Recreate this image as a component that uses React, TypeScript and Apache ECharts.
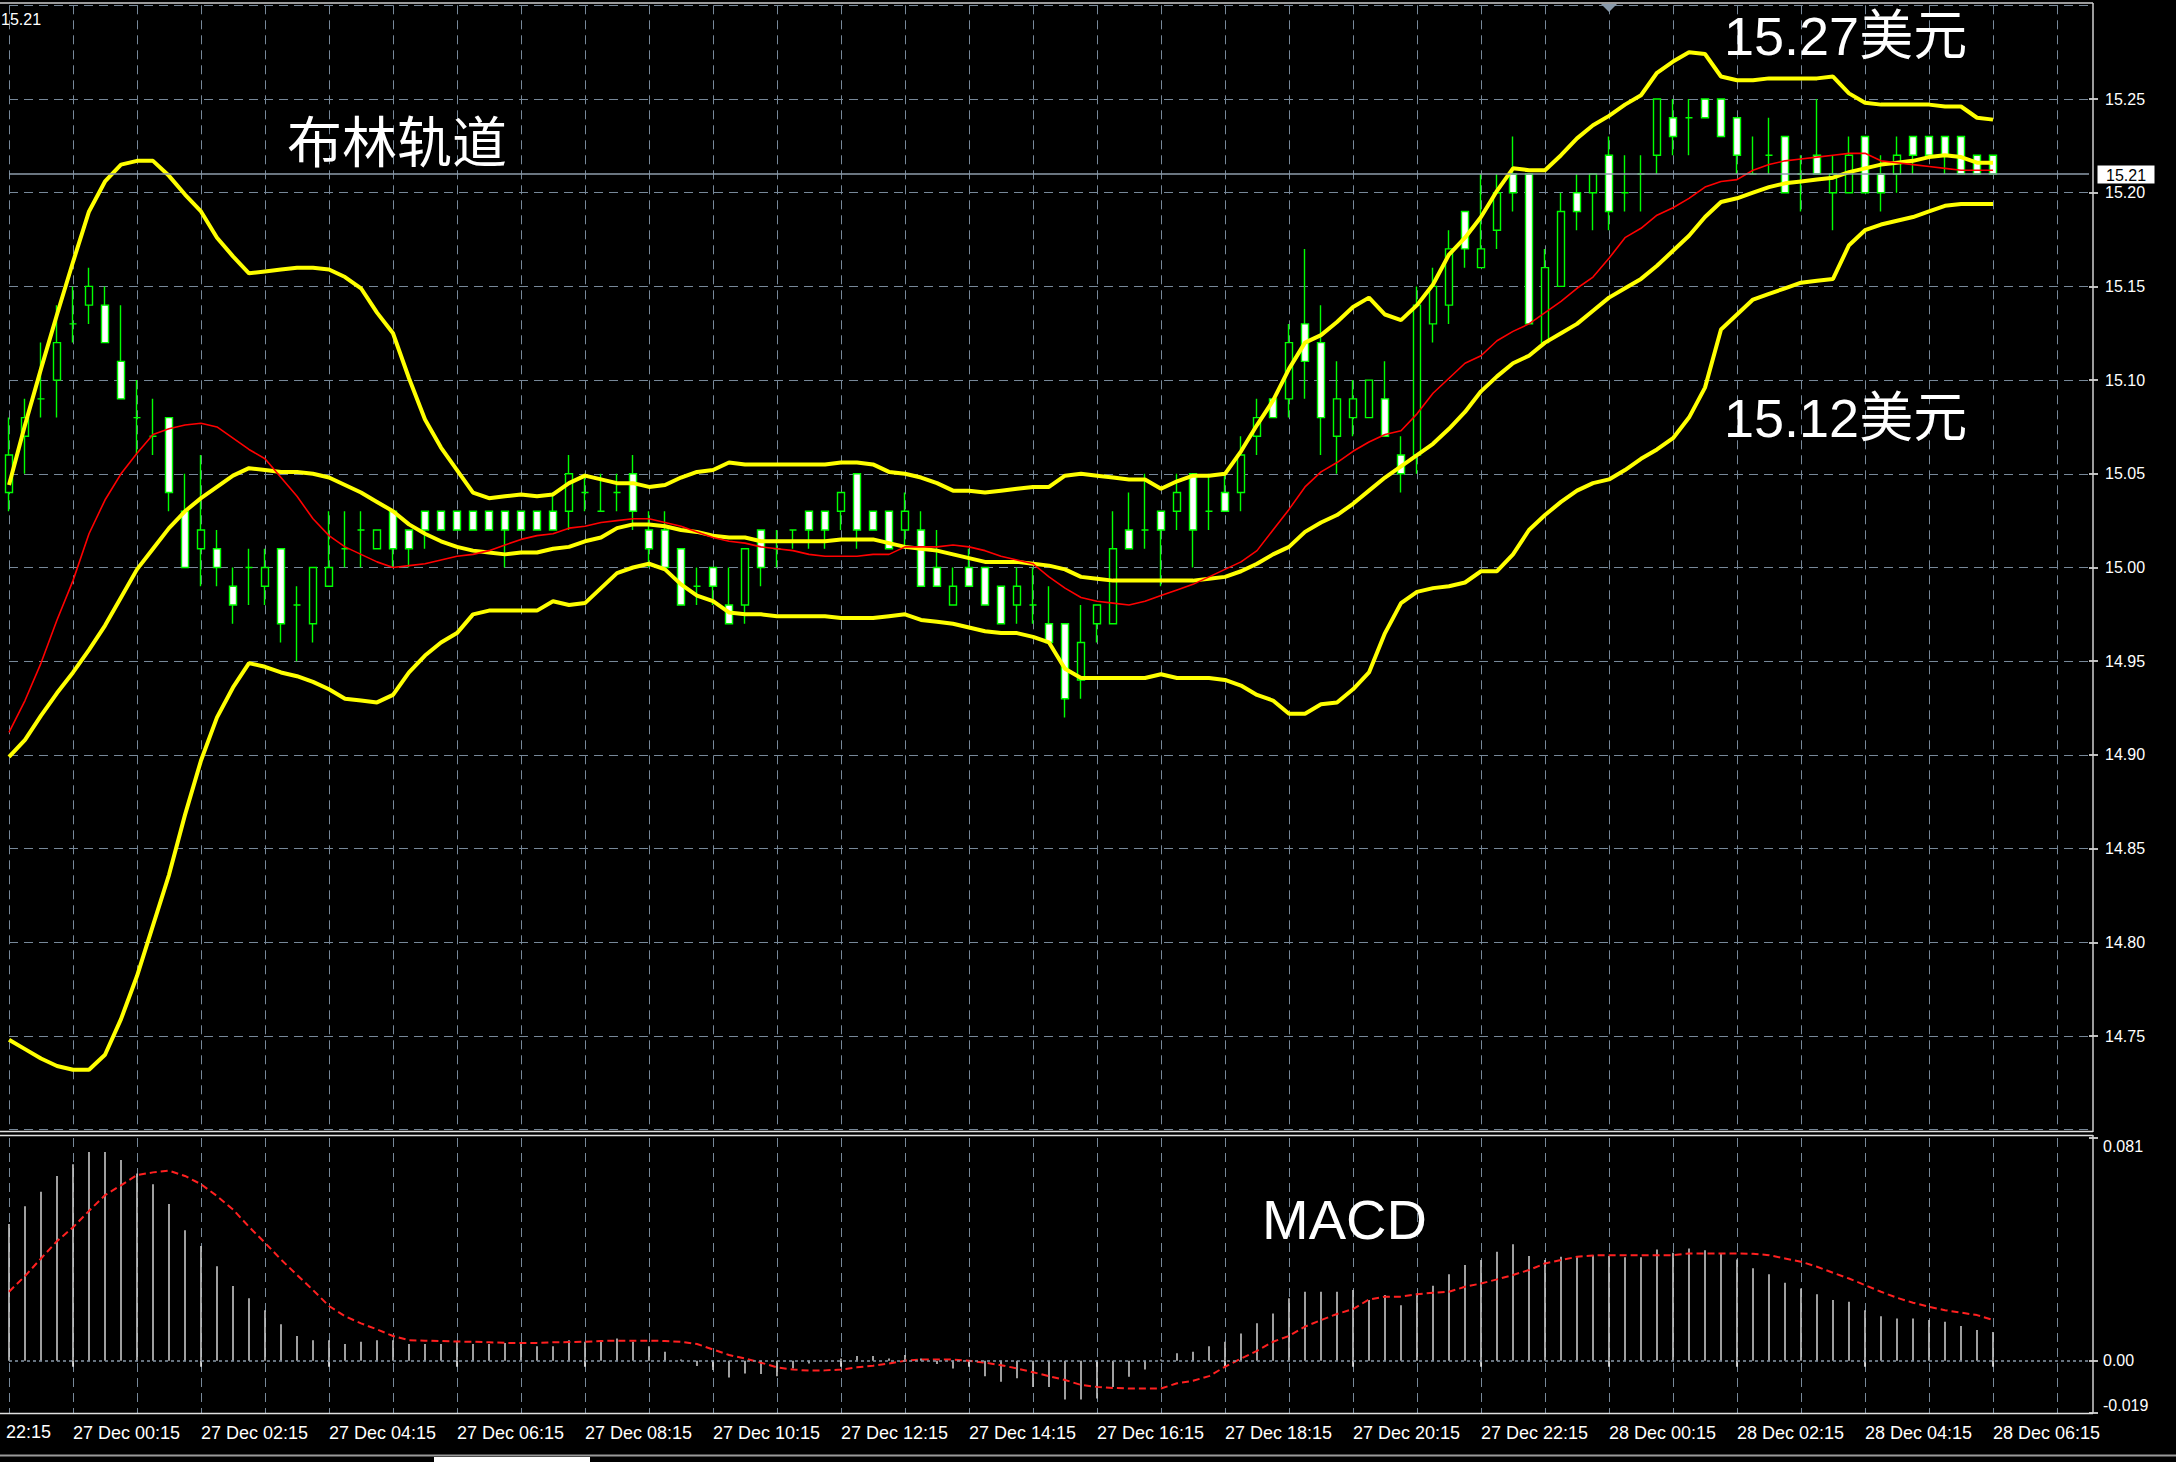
import React, { useEffect, useRef } from 'react';
import * as echarts from 'echarts';

const W = 2176;
const H = 1462;

// 15-minute bars, 26 Dec 23:15 -> 28 Dec 06:15 ; each: [open, close, low, high]
const candles: number[][] = [
  [15.04, 15.06, 15.03, 15.08], [15.07, 15.08, 15.05, 15.09], [15.09, 15.09, 15.08, 15.12], [15.10, 15.12, 15.08, 15.14],
  [15.13, 15.13, 15.12, 15.15], [15.14, 15.15, 15.13, 15.16], [15.14, 15.12, 15.12, 15.15], [15.11, 15.09, 15.09, 15.14],
  [15.08, 15.08, 15.06, 15.10], [15.07, 15.07, 15.06, 15.09], [15.08, 15.04, 15.03, 15.08], [15.03, 15.00, 15.00, 15.05],
  [15.01, 15.02, 14.99, 15.06], [15.01, 15.00, 14.99, 15.02], [14.99, 14.98, 14.97, 15.00], [15.00, 15.00, 14.98, 15.01],
  [14.99, 15.00, 14.98, 15.01], [15.01, 14.97, 14.96, 15.01], [14.98, 14.98, 14.95, 14.99], [14.97, 15.00, 14.96, 15.00],
  [14.99, 15.00, 14.99, 15.03], [15.01, 15.01, 15.00, 15.03], [15.02, 15.02, 15.00, 15.03], [15.01, 15.02, 15.01, 15.02],
  [15.03, 15.01, 15.00, 15.03], [15.02, 15.01, 15.00, 15.02], [15.03, 15.02, 15.01, 15.03], [15.03, 15.02, 15.02, 15.03],
  [15.03, 15.02, 15.02, 15.03], [15.03, 15.02, 15.02, 15.03], [15.03, 15.02, 15.02, 15.03], [15.03, 15.02, 15.00, 15.03],
  [15.03, 15.02, 15.02, 15.03], [15.03, 15.02, 15.02, 15.03], [15.03, 15.02, 15.02, 15.04], [15.03, 15.05, 15.02, 15.06],
  [15.04, 15.04, 15.03, 15.05], [15.03, 15.03, 15.03, 15.05], [15.04, 15.04, 15.03, 15.05], [15.05, 15.03, 15.02, 15.06],
  [15.02, 15.01, 15.00, 15.03], [15.02, 15.00, 15.00, 15.03], [15.01, 14.98, 14.98, 15.01], [14.99, 14.99, 14.98, 15.00],
  [15.00, 14.99, 14.98, 15.00], [14.98, 14.97, 14.97, 15.00], [14.98, 15.01, 14.97, 15.01], [15.02, 15.00, 14.99, 15.02],
  [15.01, 15.01, 15.00, 15.02], [15.02, 15.02, 15.01, 15.02], [15.03, 15.02, 15.01, 15.03], [15.03, 15.02, 15.01, 15.03],
  [15.03, 15.04, 15.02, 15.04], [15.05, 15.02, 15.01, 15.05], [15.03, 15.02, 15.02, 15.03], [15.03, 15.01, 15.01, 15.03],
  [15.02, 15.03, 15.01, 15.04], [15.02, 14.99, 14.99, 15.03], [15.00, 14.99, 14.99, 15.02], [14.98, 14.99, 14.98, 15.00],
  [15.00, 14.99, 14.99, 15.01], [15.00, 14.98, 14.98, 15.00], [14.99, 14.97, 14.97, 14.99], [14.98, 14.99, 14.97, 15.00],
  [14.98, 14.98, 14.97, 15.00], [14.97, 14.96, 14.96, 14.99], [14.97, 14.93, 14.92, 14.97], [14.94, 14.96, 14.93, 14.98],
  [14.97, 14.98, 14.96, 14.98], [14.97, 15.01, 14.97, 15.03], [15.02, 15.01, 15.01, 15.04], [15.02, 15.02, 15.01, 15.05],
  [15.03, 15.02, 14.99, 15.03], [15.03, 15.04, 15.02, 15.05], [15.05, 15.02, 15.00, 15.05], [15.03, 15.03, 15.02, 15.05],
  [15.04, 15.03, 15.03, 15.05], [15.04, 15.06, 15.03, 15.07], [15.07, 15.08, 15.06, 15.09], [15.09, 15.08, 15.08, 15.09],
  [15.09, 15.12, 15.08, 15.13], [15.13, 15.11, 15.09, 15.17], [15.12, 15.08, 15.06, 15.14], [15.07, 15.09, 15.05, 15.11],
  [15.08, 15.09, 15.07, 15.10], [15.08, 15.10, 15.08, 15.10], [15.09, 15.07, 15.07, 15.11], [15.06, 15.05, 15.04, 15.07],
  [15.06, 15.14, 15.05, 15.15], [15.13, 15.15, 15.12, 15.16], [15.14, 15.17, 15.13, 15.18], [15.19, 15.17, 15.16, 15.19],
  [15.16, 15.17, 15.16, 15.21], [15.18, 15.20, 15.17, 15.21], [15.21, 15.20, 15.19, 15.23], [15.21, 15.13, 15.13, 15.21],
  [15.12, 15.16, 15.12, 15.17], [15.15, 15.19, 15.15, 15.20], [15.20, 15.19, 15.18, 15.21], [15.20, 15.21, 15.18, 15.21],
  [15.22, 15.19, 15.18, 15.23], [15.20, 15.20, 15.19, 15.22], [15.21, 15.21, 15.19, 15.22], [15.22, 15.25, 15.21, 15.25],
  [15.24, 15.23, 15.22, 15.25], [15.24, 15.24, 15.22, 15.25], [15.25, 15.24, 15.24, 15.25], [15.25, 15.23, 15.23, 15.25],
  [15.24, 15.22, 15.21, 15.24], [15.21, 15.21, 15.21, 15.23], [15.22, 15.22, 15.21, 15.24], [15.23, 15.20, 15.20, 15.23],
  [15.21, 15.21, 15.19, 15.22], [15.22, 15.21, 15.21, 15.25], [15.20, 15.21, 15.18, 15.22], [15.20, 15.22, 15.20, 15.23],
  [15.23, 15.20, 15.20, 15.23], [15.21, 15.20, 15.19, 15.22], [15.21, 15.22, 15.20, 15.23], [15.23, 15.22, 15.21, 15.23],
  [15.23, 15.22, 15.22, 15.23], [15.23, 15.22, 15.21, 15.23], [15.23, 15.21, 15.21, 15.23], [15.22, 15.21, 15.21, 15.22],
  [15.22, 15.21, 15.21, 15.22],
];

const bbUpper = [
  15.044, 15.076, 15.106, 15.135, 15.163, 15.190, 15.206, 15.215, 15.217, 15.217,
  15.209, 15.199, 15.190, 15.176, 15.166, 15.157, 15.158, 15.159, 15.160, 15.160,
  15.159, 15.155, 15.149, 15.136, 15.125, 15.101, 15.079, 15.064, 15.052, 15.040,
  15.037, 15.038, 15.039, 15.038, 15.039, 15.045, 15.049, 15.047, 15.045, 15.045,
  15.043, 15.044, 15.048, 15.051, 15.052, 15.056, 15.055, 15.055, 15.055, 15.055,
  15.055, 15.055, 15.056, 15.056, 15.055, 15.051, 15.050, 15.048, 15.045, 15.041,
  15.041, 15.040, 15.041, 15.042, 15.043, 15.043, 15.049, 15.050, 15.049, 15.048,
  15.047, 15.047, 15.042, 15.046, 15.049, 15.049, 15.050, 15.062, 15.076, 15.089,
  15.106, 15.120, 15.124, 15.131, 15.139, 15.144, 15.135, 15.132, 15.140, 15.151,
  15.167, 15.176, 15.187, 15.201, 15.213, 15.212, 15.212, 15.220, 15.229, 15.236,
  15.241, 15.247, 15.252, 15.264, 15.270, 15.275, 15.274, 15.262, 15.260, 15.260,
  15.261, 15.261, 15.261, 15.261, 15.262, 15.253, 15.248, 15.247, 15.247, 15.247,
  15.247, 15.246, 15.246, 15.240, 15.239,
];

const bbMiddle = [
  14.899, 14.908, 14.921, 14.933, 14.944, 14.956, 14.969, 14.984, 14.999, 15.010,
  15.021, 15.030, 15.037, 15.043, 15.049, 15.053, 15.052, 15.051, 15.051, 15.050,
  15.048, 15.044, 15.040, 15.035, 15.030, 15.023, 15.018, 15.014, 15.011, 15.009,
  15.008, 15.007, 15.008, 15.008, 15.010, 15.011, 15.014, 15.016, 15.021, 15.023,
  15.023, 15.022, 15.020, 15.019, 15.017, 15.016, 15.016, 15.014, 15.014, 15.014,
  15.014, 15.014, 15.015, 15.015, 15.015, 15.013, 15.011, 15.010, 15.009, 15.007,
  15.005, 15.003, 15.003, 15.003, 15.002, 15.001, 14.999, 14.995, 14.994, 14.993,
  14.993, 14.993, 14.993, 14.993, 14.993, 14.994, 14.995, 14.998, 15.002, 15.007,
  15.011, 15.019, 15.024, 15.028, 15.034, 15.041, 15.048, 15.054, 15.060, 15.066,
  15.074, 15.083, 15.094, 15.102, 15.109, 15.113, 15.120, 15.125, 15.130, 15.137,
  15.144, 15.149, 15.154, 15.161, 15.169, 15.177, 15.187, 15.195, 15.197, 15.200,
  15.203, 15.205, 15.206, 15.207, 15.208, 15.211, 15.213, 15.215, 15.216, 15.217,
  15.219, 15.220, 15.219, 15.216, 15.216,
];

const bbLower = [
  14.748, 14.743, 14.738, 14.734, 14.732, 14.732, 14.740, 14.759, 14.782, 14.809,
  14.836, 14.868, 14.897, 14.920, 14.936, 14.949, 14.947, 14.944, 14.942, 14.939,
  14.935, 14.930, 14.929, 14.928, 14.932, 14.944, 14.953, 14.960, 14.965, 14.975,
  14.977, 14.977, 14.977, 14.977, 14.982, 14.980, 14.981, 14.989, 14.997, 15.000,
  15.002, 14.999, 14.991, 14.985, 14.982, 14.976, 14.975, 14.975, 14.974, 14.974,
  14.974, 14.974, 14.973, 14.973, 14.973, 14.974, 14.975, 14.972, 14.971, 14.970,
  14.968, 14.966, 14.965, 14.965, 14.963, 14.960, 14.946, 14.941, 14.941, 14.941,
  14.941, 14.941, 14.943, 14.941, 14.941, 14.941, 14.940, 14.937, 14.932, 14.929,
  14.922, 14.922, 14.927, 14.928, 14.935, 14.944, 14.965, 14.981, 14.987, 14.989,
  14.990, 14.992, 14.998, 14.998, 15.007, 15.020, 15.028, 15.035, 15.041, 15.045,
  15.047, 15.052, 15.058, 15.063, 15.069, 15.080, 15.096, 15.127, 15.135, 15.143,
  15.146, 15.149, 15.152, 15.153, 15.154, 15.172, 15.180, 15.183, 15.185, 15.187,
  15.190, 15.193, 15.194, 15.194, 15.194,
];

const maRed = [
  14.912, 14.929, 14.949, 14.972, 14.993, 15.018, 15.036, 15.050, 15.061, 15.071,
  15.074, 15.076, 15.077, 15.075, 15.069, 15.063, 15.058, 15.048, 15.038, 15.026,
  15.017, 15.011, 15.007, 15.003, 15.000, 15.001, 15.002, 15.004, 15.006, 15.007,
  15.009, 15.012, 15.015, 15.017, 15.018, 15.021, 15.022, 15.024, 15.025, 15.026,
  15.026, 15.024, 15.022, 15.019, 15.016, 15.014, 15.013, 15.011, 15.010, 15.009,
  15.007, 15.006, 15.006, 15.006, 15.007, 15.007, 15.011, 15.011, 15.011, 15.012,
  15.011, 15.009, 15.006, 15.004, 15.002, 14.995, 14.989, 14.984, 14.982, 14.981,
  14.980, 14.982, 14.985, 14.988, 14.991, 14.995, 14.999, 15.003, 15.009, 15.020,
  15.031, 15.043, 15.051, 15.056, 15.062, 15.067, 15.071, 15.073, 15.082, 15.093,
  15.101, 15.109, 15.113, 15.121, 15.126, 15.130, 15.136, 15.142, 15.149, 15.155,
  15.165, 15.176, 15.181, 15.188, 15.192, 15.197, 15.203, 15.206, 15.207, 15.212,
  15.215, 15.217, 15.218, 15.219, 15.220, 15.221, 15.221, 15.217, 15.216, 15.215,
  15.214, 15.213, 15.212, 15.212, 15.212,
];

const macdHist = [
  0.0497, 0.0562, 0.0615, 0.0672, 0.0715, 0.0759, 0.0759, 0.0730, 0.0681, 0.0642,
  0.0570, 0.0475, 0.0417, 0.0344, 0.0272, 0.0227, 0.0184, 0.0133, 0.0090, 0.0075,
  0.0075, 0.0061, 0.0069, 0.0075, 0.0075, 0.0061, 0.0061, 0.0061, 0.0069, 0.0061,
  0.0061, 0.0065, 0.0063, 0.0053, 0.0053, 0.0075, 0.0069, 0.0075, 0.0081, 0.0069,
  0.0053, 0.0033, 0.0005, -0.0019, -0.0034, -0.0061, -0.0046, -0.0048, -0.0056, -0.0028,
  -0.0010, -0.0002, 0.0008, 0.0017, 0.0017, 0.0008, 0.0021, 0.0008, -0.0012, -0.0028,
  -0.0016, -0.0056, -0.0076, -0.0064, -0.0095, -0.0095, -0.0141, -0.0141, -0.0137, -0.0095,
  -0.0058, -0.0032, 0.0005, 0.0027, 0.0033, 0.0053, 0.0069, 0.0099, 0.0136, 0.0172,
  0.0227, 0.0251, 0.0251, 0.0251, 0.0257, 0.0221, 0.0239, 0.0202, 0.0245, 0.0273,
  0.0315, 0.0348, 0.0366, 0.0396, 0.0424, 0.0381, 0.0366, 0.0378, 0.0381, 0.0384,
  0.0381, 0.0376, 0.0376, 0.0405, 0.0393, 0.0408, 0.0402, 0.0390, 0.0368, 0.0336,
  0.0315, 0.0284, 0.0263, 0.0242, 0.0221, 0.0215, 0.0184, 0.0162, 0.0154, 0.0154,
  0.0148, 0.0142, 0.0126, 0.0112, 0.0105,
];

const macdSignal = [
  0.0251, 0.0308, 0.0372, 0.0435, 0.0485, 0.0545, 0.0602, 0.0638, 0.0675, 0.0685,
  0.0691, 0.0672, 0.0642, 0.0599, 0.0550, 0.0487, 0.0429, 0.0368, 0.0312, 0.0257,
  0.0199, 0.0162, 0.0136, 0.0114, 0.0090, 0.0075, 0.0073, 0.0072, 0.0070, 0.0069,
  0.0067, 0.0065, 0.0065, 0.0065, 0.0067, 0.0068, 0.0069, 0.0072, 0.0073, 0.0073,
  0.0073, 0.0072, 0.0069, 0.0061, 0.0041, 0.0021, 0.0008, -0.0007, -0.0024, -0.0032,
  -0.0036, -0.0035, -0.0032, -0.0024, -0.0018, -0.0010, 0.0000, 0.0005, 0.0005, 0.0004,
  0.0000, -0.0007, -0.0016, -0.0028, -0.0042, -0.0056, -0.0070, -0.0088, -0.0095, -0.0099,
  -0.0101, -0.0101, -0.0101, -0.0082, -0.0073, -0.0056, -0.0022, 0.0008, 0.0036, 0.0069,
  0.0090, 0.0124, 0.0148, 0.0170, 0.0188, 0.0223, 0.0233, 0.0233, 0.0242, 0.0247,
  0.0251, 0.0269, 0.0281, 0.0296, 0.0312, 0.0330, 0.0354, 0.0366, 0.0378, 0.0383,
  0.0384, 0.0384, 0.0384, 0.0384, 0.0384, 0.0390, 0.0390, 0.0390, 0.0390, 0.0389,
  0.0384, 0.0372, 0.0360, 0.0342, 0.0320, 0.0299, 0.0275, 0.0251, 0.0229, 0.0211,
  0.0196, 0.0184, 0.0175, 0.0166, 0.0148,
];

// time labels every 2 hours, first at bar index 4 (27 Dec 00:15)
const timeTicks = [
  '27 Dec 00:15', '27 Dec 02:15', '27 Dec 04:15', '27 Dec 06:15', '27 Dec 08:15', '27 Dec 10:15',
  '27 Dec 12:15', '27 Dec 14:15', '27 Dec 16:15', '27 Dec 18:15', '27 Dec 20:15', '27 Dec 22:15',
  '28 Dec 00:15', '28 Dec 02:15', '28 Dec 04:15', '28 Dec 06:15',
];
const leftEdgeTick = '22:15';
const macdTicks = [-0.019, 0, 0.081];
const bidPrice = 15.21;

const SLOTS = 131; // 125 bars + right shift space
const categories = Array.from({ length: SLOTS }, (_, i) => String(i));

const GRID = '#778899';
const FONT = 'Liberation Sans, Arial, sans-serif';
const CJK = 'Liberation Sans, "Noto Sans CJK SC", sans-serif';

const isTimeTick = (i: number) => i >= 4 && i <= 124 && (i - 4) % 8 === 0;
const isHour = (i: number) => i % 4 === 0;

function buildOption() {
  const vSplit = { show: true, interval: (i: number) => isHour(i), lineStyle: { color: GRID, type: [9, 6], width: 1 } };
  const line = (x1: number, y1: number, x2: number, y2: number, stroke: string, lw = 1.5) => ({
    type: 'line', silent: true, z: 100, shape: { x1, y1, x2, y2 }, style: { stroke, lineWidth: lw },
  });
  const txt = (text: string, x: number, y: number, size: number, fam: string, fill = '#fff', align = 'left') => ({
    type: 'text', silent: true, z: 101, x, y,
    style: { text, fill, fontSize: size, fontFamily: fam, align, verticalAlign: 'middle' },
  });
  return {
    animation: false,
    backgroundColor: '#000',
    grid: [
      { left: 9, top: 5.3, width: 2080, height: 1124.4, outerBoundsMode: 'none' },
      { left: 9, top: 1138, width: 2080, height: 275, outerBoundsMode: 'none' },
    ],
    xAxis: [
      {
        type: 'category', gridIndex: 0, data: categories, boundaryGap: false,
        axisLine: { show: false }, axisTick: { show: false }, axisLabel: { show: false }, splitLine: vSplit,
      },
      {
        type: 'category', gridIndex: 1, data: categories, boundaryGap: false,
        axisLine: { show: false },
        axisTick: { show: true, interval: (i: number) => isTimeTick(i), length: 6, lineStyle: { color: '#ffffff', width: 1.5 } },
        axisLabel: {
          show: true, interval: (i: number) => isTimeTick(i), align: 'left', margin: 11,
          color: '#ffffff', fontSize: 18, fontFamily: FONT,
          formatter: (_v: string, idx: number) => (isTimeTick(idx) ? timeTicks[(idx - 4) / 8] : ''),
        },
        splitLine: vSplit,
      },
    ],
    yAxis: [
      {
        type: 'value', gridIndex: 0, position: 'right', min: 14.7, max: 15.3, interval: 0.05, scale: true,
        axisLine: { show: false },
        axisTick: { show: true, length: 9, lineStyle: { color: '#ffffff', width: 1.5 } },
        axisLabel: {
          color: '#ffffff', fontSize: 16, fontFamily: FONT, margin: 16, showMinLabel: false, showMaxLabel: false,
          formatter: (v: number) => v.toFixed(2),
        },
        splitLine: { show: true, lineStyle: { color: GRID, type: [9, 6], width: 1 } },
      },
      {
        type: 'value', gridIndex: 1, position: 'right', min: -0.019, max: 0.081,
        axisLine: { show: false },
        axisTick: { show: true, length: 9, customValues: macdTicks, lineStyle: { color: '#ffffff', width: 1.5 } },
        axisLabel: {
          color: '#ffffff', fontSize: 16, fontFamily: FONT, margin: 14, customValues: macdTicks,
          verticalAlignMinLabel: 'bottom', verticalAlignMaxLabel: 'top',
          formatter: (v: number) => (v === 0 ? '0.00' : v.toFixed(3)),
        },
        splitLine: { show: false },
      },
    ],
    series: [
      {
        type: 'candlestick', xAxisIndex: 0, yAxisIndex: 0, data: candles, barWidth: 7, z: 2,
        itemStyle: {
          color: '#000000', color0: '#ffffff', borderColor: '#00ff00', borderColor0: '#00ff00',
          borderColorDoji: '#00ff00', borderWidth: 1.4,
        },
        markLine: {
          silent: true, symbol: ['none', 'none'], label: { show: false },
          lineStyle: { color: '#8e9cab', type: 'solid', width: 1.5 },
          data: [{ yAxis: bidPrice }],
        },
      },
      { type: 'line', xAxisIndex: 0, yAxisIndex: 0, data: bbUpper, symbol: 'none', z: 3, lineStyle: { color: '#ffff00', width: 4 } },
      { type: 'line', xAxisIndex: 0, yAxisIndex: 0, data: bbMiddle, symbol: 'none', z: 3, lineStyle: { color: '#ffff00', width: 4 } },
      { type: 'line', xAxisIndex: 0, yAxisIndex: 0, data: bbLower, symbol: 'none', z: 3, lineStyle: { color: '#ffff00', width: 4 } },
      { type: 'line', xAxisIndex: 0, yAxisIndex: 0, data: maRed, symbol: 'none', z: 4, lineStyle: { color: '#ff0000', width: 1.6 } },
      {
        type: 'bar', xAxisIndex: 1, yAxisIndex: 1, data: macdHist, barWidth: 1.6, z: 2,
        itemStyle: { color: '#c8c8c8' },
        markLine: {
          silent: true, symbol: ['none', 'none'], label: { show: false },
          lineStyle: { color: '#8899aa', type: [3, 3], width: 1.5 },
          data: [{ yAxis: 0 }],
        },
      },
      {
        type: 'line', xAxisIndex: 1, yAxisIndex: 1, data: macdSignal, symbol: 'none', z: 4,
        lineStyle: { color: '#ff2020', width: 2, type: [7, 4] },
      },
    ],
    graphic: [
      line(0, 3, 2093, 3, '#d0d0d0'),
      line(2093, 3, 2093, 1132, '#d0d0d0'),
      line(0, 1131.5, 2093, 1131.5, '#e0e0e0'),
      line(0, 1135.5, 2093, 1135.5, '#e0e0e0'),
      line(2093, 1135, 2093, 1413, '#d0d0d0'),
      line(0, 1413.5, 2093, 1413.5, '#e0e0e0'),
      line(0, 1455.5, W, 1455.5, '#9a9a9a', 2),
      { type: 'rect', silent: true, z: 100, shape: { x: 434, y: 1457, width: 156, height: 5 }, style: { fill: '#ffffff' } },
      { type: 'polygon', silent: true, z: 100, shape: { points: [[1601, 4], [1617, 4], [1609, 12]] }, style: { fill: '#8899aa' } },
      { type: 'rect', silent: true, z: 100, shape: { x: 2097, y: 165, width: 58, height: 19 }, style: { fill: '#ffffff', stroke: '#000000', lineWidth: 1 } },
      txt('15.21', 2126, 175, 16, FONT, '#000000', 'center'),
      txt('15.21', 1, 19, 16, FONT, '#ffffff'),
      txt(leftEdgeTick, 6, 1432, 18, FONT, '#ffffff'),
      txt('布林轨道', 287, 143, 55, CJK),
      txt('15.27美元', 1724, 36, 54, CJK),
      txt('15.12美元', 1724, 418, 54, CJK),
      txt('MACD', 1262, 1219, 56, FONT),
    ],
  };
}

export default function App() {
  const ref = useRef<HTMLDivElement>(null);
  useEffect(() => {
    if (!ref.current) return;
    const chart = echarts.init(ref.current, null, { renderer: 'svg', width: W, height: H });
    chart.setOption(buildOption() as any);
    return () => chart.dispose();
  }, []);
  return (
    <div
      ref={ref}
      style={{ position: 'fixed', left: 0, top: 0, width: W, height: H, background: '#000' }}
    />
  );
}
